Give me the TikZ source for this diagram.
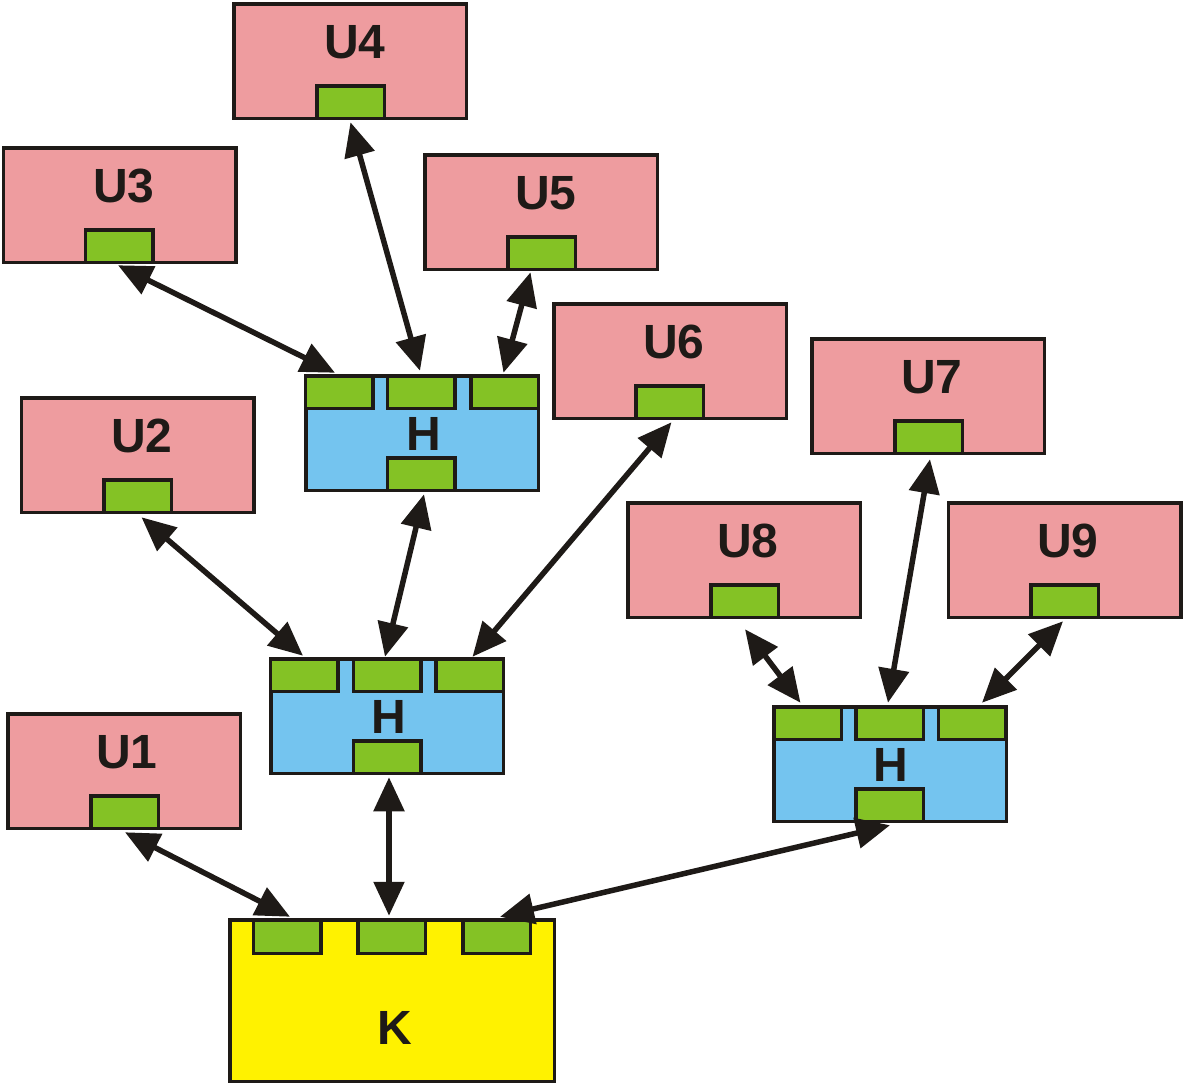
\documentclass[tikz,border=0pt]{standalone}
\usepackage{fontspec}
\setmainfont{Liberation Sans}
\usetikzlibrary{arrows.meta}
\definecolor{pinkc}{HTML}{EE9C9F}
\definecolor{greenc}{HTML}{84C225}
\definecolor{bluec}{HTML}{74C4EF}
\definecolor{yellowc}{HTML}{FFF200}
\definecolor{edgec}{HTML}{1E1A17}
\tikzset{
  boxbase/.style={draw=edgec, line width=3.5pt, inner sep=0pt, outer sep=0pt, minimum width=232.5pt, minimum height=114.5pt},
  ubox/.style={boxbase, fill=pinkc},
  hbox/.style={boxbase, fill=bluec},
  kbox/.style={draw=edgec, line width=3.5pt, inner sep=0pt, outer sep=0pt, fill=yellowc, minimum width=324.5pt, minimum height=161.5pt},
  port/.style={draw=edgec, line width=3.5pt, inner sep=0pt, outer sep=0pt, fill=greenc, minimum width=67.5pt, minimum height=32.5pt},
  lbl/.style={anchor=base, inner sep=0pt, text=edgec, font=\fontsize{48}{48}\selectfont\bfseries},
  link/.style={draw=edgec, line width=5.5pt, {Triangle[length=34pt,width=30pt]}-{Triangle[length=34pt,width=30pt]}}
}
\begin{document}
\begin{tikzpicture}[x=1pt,y=-1pt]
\useasboundingbox (0,0) rectangle (1184,1085);
% U boxes
\node[ubox] (u4) at (350,61) {};
\node[port] (u4p) at (350.5,102) {};
\node[lbl] (u4l) at (355,58) {U4};
\node[ubox] (u3) at (119.5,205) {};
\node[port] (u3p) at (119,246) {};
\node[lbl] (u3l) at (124,202) {U3};
\node[ubox] (u5) at (541,212) {};
\node[port] (u5p) at (541.5,253) {};
\node[lbl] (u5l) at (546,209) {U5};
\node[ubox] (u6) at (670,361) {};
\node[port] (u6p) at (669.5,402) {};
\node[lbl] (u6l) at (674,358) {U6};
\node[ubox] (u7) at (928,396) {};
\node[port] (u7p) at (928.5,437) {};
\node[lbl] (u7l) at (932,393) {U7};
\node[ubox] (u2) at (137.5,455) {};
\node[port] (u2p) at (137.5,496) {};
\node[lbl] (u2l) at (142,452) {U2};
\node[ubox] (u8) at (744,560) {};
\node[port] (u8p) at (744.5,601) {};
\node[lbl] (u8l) at (748,557) {U8};
\node[ubox] (u9) at (1064.5,560) {};
\node[port] (u9p) at (1064.5,601) {};
\node[lbl] (u9l) at (1068,557) {U9};
\node[ubox] (u1) at (124,771) {};
\node[port] (u1p) at (124.5,812) {};
\node[lbl] (u1l) at (127,768) {U1};
% H boxes
\node[hbox] (h1) at (422,433) {};
\node[port] (h1a) at (339,392) {};
\node[port] (h1b) at (421,392) {};
\node[port] (h1c) at (504.5,392) {};
\node[port] (h1d) at (421,474) {};
\node[lbl] (h1l) at (424,450) {H};
\node[hbox] (h2) at (387,716) {};
\node[port] (h2a) at (304,675) {};
\node[port] (h2b) at (387,675) {};
\node[port] (h2c) at (469.5,675) {};
\node[port] (h2d) at (387,757) {};
\node[lbl] (h2l) at (389,733) {H};
\node[hbox] (h3) at (890,764) {};
\node[port] (h3a) at (807.5,723) {};
\node[port] (h3b) at (889.5,723) {};
\node[port] (h3c) at (972,723) {};
\node[port] (h3d) at (889.5,805) {};
\node[lbl] (h3l) at (891,781) {H};
% K box
\node[kbox] (k) at (392,1000.5) {};
\node[port, minimum height=33.5pt] (k1) at (287,936.5) {};
\node[port, minimum height=33.5pt] (k2) at (391.5,936.5) {};
\node[port, minimum height=33.5pt] (k3) at (496.5,936.5) {};
\node[lbl] (kl) at (395,1044) {K};
% links
\draw[link] ([yshift=-4pt]u4p.south) -- ([xshift=-1pt,yshift=5pt]h1b.north);
\draw[link] ([xshift=-1pt,yshift=-3pt]u3p.south) -- ([xshift=-4pt,yshift=3pt]h1a.north);
\draw[link] ([xshift=-11pt,yshift=-3pt]u5p.south) -- ([xshift=-1pt,yshift=3pt]h1c.north);
\draw[link] ([xshift=2pt,yshift=-4pt]u6p.south) -- ([xshift=3pt,yshift=2pt]h2c.north);
\draw[link] ([xshift=3pt,yshift=-4pt]h1d.south) -- ([xshift=-2pt,yshift=2pt]h2b.north);
\draw[link] ([xshift=4pt,yshift=-5pt]u2p.south) -- ([xshift=-1pt,yshift=3pt]h2a.north);
\draw[link] ([xshift=2pt,yshift=-4pt]h2d.south) -- ([xshift=-2.5pt,yshift=4pt]k2.north);
\draw[link] ([xshift=0.5pt,yshift=-4pt]u1p.south) -- ([xshift=3pt,yshift=3pt]k1.north);
\draw[link] ([xshift=0.5pt,yshift=-4pt]h3d.south) -- ([xshift=3.5pt,yshift=3pt]k3.north);
\draw[link] ([xshift=0.5pt,yshift=-12pt]u8p.south) -- ([xshift=-7pt,yshift=4pt]h3a.north);
\draw[link] ([xshift=1.5pt,yshift=-6pt]u7p.south) -- ([xshift=-1.5pt,yshift=4pt]h3b.north);
\draw[link] ([xshift=-1.5pt,yshift=-4pt]u9p.south) -- ([xshift=10pt,yshift=4pt]h3c.north);
\end{tikzpicture}
\end{document}
